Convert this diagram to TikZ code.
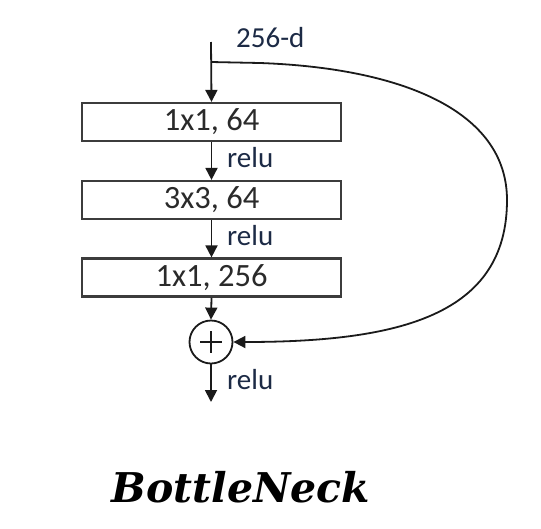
\documentclass[tikz,border=0pt]{standalone}
\usepackage{fontspec}
\setmainfont{Carlito}
\newfontfamily\titlefont{DejaVu Serif}
\usetikzlibrary{arrows.meta,calc}
\definecolor{boxtext}{HTML}{2A2A2A}
\definecolor{labtext}{HTML}{1C2A45}
\definecolor{linecol}{HTML}{1A1A1A}
\begin{document}
\begin{tikzpicture}[x=1pt,y=-1pt,
  layerbox/.style={draw=linecol!85!white,line width=2.2pt,minimum width=259pt,minimum height=38pt,inner sep=0pt,font=\fontsize{32.5}{33}\selectfont,text=boxtext},
  lab/.style={font=\fontsize{29}{30}\selectfont,text=labtext,anchor=west,inner sep=0pt},
  flow/.style={draw=linecol,line width=1.8pt,-{Triangle[length=12pt,width=12pt]}},
  sumnode/.style={circle,draw=linecol,line width=1.8pt,minimum size=43pt,inner sep=0pt}
]
\useasboundingbox (0,0) rectangle (541,528);
\coordinate (in) at (211,42);
\coordinate (split) at (211,62);
\node[layerbox] (b1) at (211.5,122) {1x1, 64};
\node[layerbox] (b2) at (211.5,200) {3x3, 64};
\node[layerbox] (b3) at (211.5,277.5) {1x1, 256};
\node[sumnode] (sum) at (211,342) {};
\draw[line width=1.8pt,linecol] ($(sum.center)+(-11,0)$) -- ($(sum.center)+(11,0)$);
\draw[line width=1.8pt,linecol] ($(sum.center)+(0,-11)$) -- ($(sum.center)+(0,11)$);
\coordinate (out) at (211,402);
\node[lab] (l0) at (236,38) {256-d};
\node[lab] (l1) at (227,158) {relu};
\node[lab] (l2) at (227,236) {relu};
\node[lab] (l3) at (227,380) {relu};
\node[font=\titlefont\bfseries\itshape\fontsize{41}{42}\selectfont,text=black,inner sep=0pt] (title) at (241,487) {BottleNeck};
\draw[flow] (in) -- (b1.north);
\draw[flow] (b1.south) -- (b2.north);
\draw[flow] (b2.south) -- (b3.north);
\draw[flow] (b3.south) -- (sum.north);
\draw[flow] (sum.south) -- (out);
\draw[flow] (split) -- (260,63) .. controls (400,68) and (507,110) .. (507,200) .. controls (507,315) and (400,342) .. (sum.east);
\end{tikzpicture}
\end{document}
